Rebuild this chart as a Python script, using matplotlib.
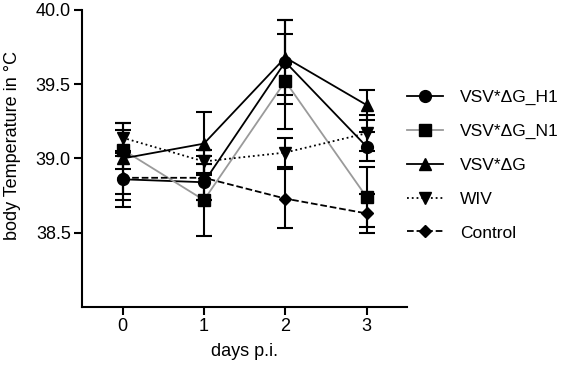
import numpy as np
import matplotlib
matplotlib.use('Agg')
import matplotlib.pyplot as plt

plt.rcParams['font.family'] = ['Liberation Sans', 'DejaVu Sans']

days = [0, 1, 2, 3]
labels = ['VSV*ΔG_H1', 'VSV*ΔG_N1', 'VSV*ΔG', 'WIV', 'Control']

h1 = [38.86, 38.84, 39.65, 39.08]
h1_err = [0.19, 0.12, 0.28, 0.10]
n1 = [39.06, 38.72, 39.52, 38.74]
n1_err = [0.13, 0.24, 0.32, 0.20]
dg = [39.00, 39.10, 39.68, 39.36]
dg_err = [0.24, 0.21, 0.25, 0.10]
wiv = [39.14, 38.98, 39.04, 39.17]
wiv_err = [0.10, 0.08, 0.10, 0.12]
ctrl = [38.87, 38.87, 38.73, 38.63]
ctrl_err = [0.15, 0.15, 0.20, 0.13]

series = [
    (h1, h1_err, 'black', '-', 'o', 8.5),
    (n1, n1_err, '#9a9a9a', '-', 's', 8),
    (dg, dg_err, 'black', '-', '^', 8.5),
    (wiv, wiv_err, 'black', ':', 'v', 8.5),
    (ctrl, ctrl_err, 'black', '--', 'D', 6.5),
]

fig = plt.figure(figsize=(5.61, 3.67), dpi=100)
ax = fig.add_axes([0.146, 0.1635, 0.58, 0.8093])

handles = []
for (vals, err, col, ls, mk, ms), lab in zip(series, labels):
    c = ax.errorbar(days, vals, yerr=err, color=col, ls=ls, lw=1.3,
                    marker=mk, ms=ms, mfc='black', mec='black',
                    ecolor='black', elinewidth=1.5, capsize=5.5, capthick=1.5,
                    label=lab)
    handles.append(c[0])

ax.set_xlim(-0.5, 3.5)
ax.set_ylim(38.0, 40.0)
ax.set_xticks(days)
ax.set_yticks([38.5, 39.0, 39.5, 40.0])
ax.set_yticklabels(['38.5', '39.0', '39.5', '40.0'])
for s in ['top', 'right']:
    ax.spines[s].set_visible(False)
for s in ['left', 'bottom']:
    ax.spines[s].set_linewidth(1.5)
ax.tick_params(width=1.5, length=6, labelsize=13, pad=2)
ax.set_xlabel('days p.i.', fontsize=13, labelpad=6)
ax.set_ylabel('body Temperature in °C', fontsize=13)
ax.yaxis.set_label_coords(-0.186, 0.545)

fig.legend(handles, labels, loc='center left', bbox_to_anchor=(0.7255, 0.5504),
           frameon=False, fontsize=12.5, handlelength=2.07, labelspacing=1.08,
           handletextpad=0.98, borderpad=0, borderaxespad=0)

fig.savefig('out.png', dpi=100)
